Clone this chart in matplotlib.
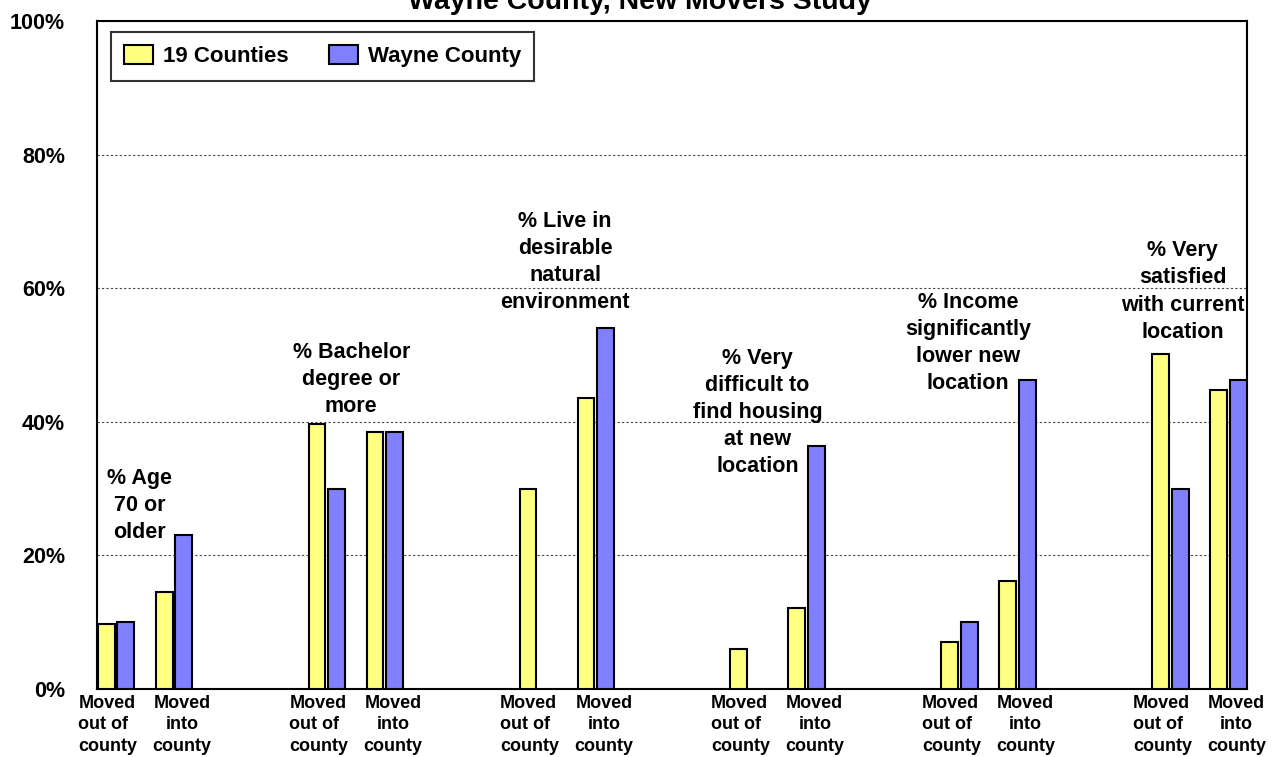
import matplotlib
matplotlib.use("Agg")
import matplotlib.pyplot as plt
import numpy as np

plt.rcParams["font.family"] = ["Liberation Sans", "DejaVu Sans"]
plt.rcParams["font.weight"] = "bold"

# ---- data (percent) ----
topics = ["% Age\n70 or\nolder",
          "% Bachelor\ndegree or\nmore",
          "% Live in\ndesirable\nnatural\nenvironment",
          "% Very\ndifficult to\nfind housing\nat new\nlocation",
          "% Income\nsignificantly\nlower new\nlocation",
          "% Very\nsatisfied\nwith current\nlocation"]
sub_labels = ["Moved\nout of\ncounty", "Moved\ninto\ncounty"]
series = ["19 Counties", "Wayne County"]

counties_out = [9.8, 39.7, 30.0, 6.0, 7.0, 50.1]
wayne_out = [10.0, 30.0, np.nan, np.nan, 10.0, 30.0]
counties_into = [14.5, 38.5, 43.5, 12.1, 16.1, 44.8]
wayne_into = [23.1, 38.5, 54.0, 36.4, 46.3, 46.2]

# annotation placement (x offset from pair centre, y centre in %)
ann_dx = [-0.09, -0.08, -0.03, -0.35, -0.35, -0.29]
ann_y = [27.5, 46.3, 63.9, 41.4, 51.8, 59.5]

yellow = "#FFFF80"
blue = "#8080FF"

gap = 3.636
width = 0.29
off = 0.17
g = np.arange(len(topics)) * gap
x_out = g
x_into = g + 1

fig = plt.figure(figsize=(12.73, 7.57), dpi=100)
ax = fig.add_axes([97 / 1273, 1 - 689 / 757, (1247 - 97) / 1273, (689 - 21) / 757])

kw = dict(width=width, edgecolor="black", linewidth=1.5, zorder=3)
ax.bar(x_out - off, counties_out, color=yellow, label=series[0], **kw)
ax.bar(x_out + off, wayne_out, color=blue, label=series[1], **kw)
ax.bar(x_into - off, counties_into, color=yellow, **kw)
ax.bar(x_into + off, wayne_into, color=blue, **kw)

ax.set_xlim(-0.328, 19.5)
ax.set_ylim(0, 100)
ax.set_yticks([0, 20, 40, 60, 80, 100])
ax.set_yticklabels(["0%", "20%", "40%", "60%", "80%", "100%"], fontsize=15.5, fontweight="bold")
ax.yaxis.grid(True, linestyle=(0, (2, 2)), color="#444444", linewidth=0.8)
ax.set_axisbelow(True)
ax.tick_params(axis="y", length=0, pad=23)

xt = np.concatenate([x_out - 0.14, x_into + 0.14])
xl = [sub_labels[0]] * len(topics) + [sub_labels[1]] * len(topics)
ax.set_xticks(xt)
ax.set_xticklabels(xl, fontsize=13, fontweight="bold")
ax.tick_params(axis="x", length=0, pad=4)
for k, lbl in enumerate(ax.get_xticklabels()):
    lbl.set_linespacing(1.38)
    if k < len(topics):
        lbl.set_multialignment("left")

for s in ax.spines.values():
    s.set_linewidth(1.5)

for i, t in enumerate(topics):
    ax.text(g[i] + 0.5 + ann_dx[i], ann_y[i], t, ha="center", va="center",
            fontsize=15.5, fontweight="bold", linespacing=1.38, zorder=4)

leg = ax.legend(loc="upper left", bbox_to_anchor=(0.012, 0.9835), ncol=2,
                prop={"weight": "bold", "size": 16}, frameon=True, fancybox=False,
                edgecolor="black", handlelength=1.3, handleheight=0.9,
                columnspacing=1.8, borderpad=0.6, handletextpad=0.45,
                borderaxespad=0)
leg.get_frame().set_linewidth(1.5)

fig.text(0.503, 1 - 9 / 757, "Wayne County, New Movers Study", ha="center",
         va="baseline", fontsize=20.5, fontweight="bold")

fig.savefig("out.png", dpi=100)
